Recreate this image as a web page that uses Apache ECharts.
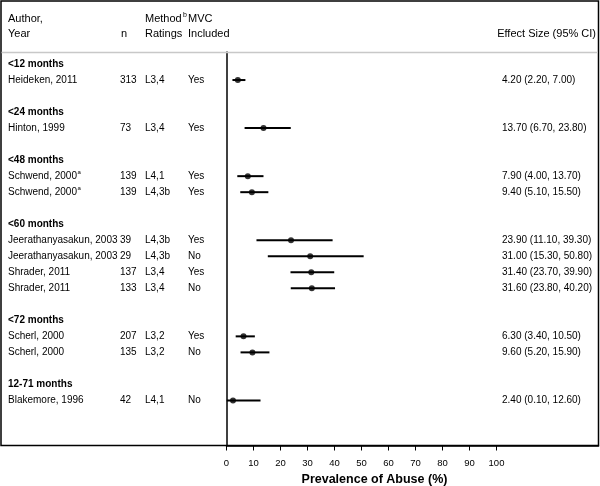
<!DOCTYPE html>
<html><head><meta charset="utf-8">
<script src="https://cdn.jsdelivr.net/npm/echarts@6/dist/echarts.min.js"></script>
<style>html,body{margin:0;padding:0;background:#fff}#c{width:600px;height:486px}</style>
</head><body><div id="c"></div>
<script>
var groups = ['<12 months','<24 months','<48 months','<60 months','<72 months','12-71 months'];
var authors = ['Heideken, 2011','Hinton, 1999','Schwend, 2000','Schwend, 2000','Jeerathanyasakun, 2003','Jeerathanyasakun, 2003','Shrader, 2011','Shrader, 2011','Scherl, 2000','Scherl, 2000','Blakemore, 1996'];
var authorSup = ['','','a','a','','','','','','',''];
var groupOf = [0,1,2,2,3,3,3,3,4,4,5];
var nVals = [313,73,139,139,39,29,137,133,207,135,42];
var methods = ['L3,4','L3,4','L4,1','L4,3b','L4,3b','L4,3b','L3,4','L3,4','L3,2','L3,2','L4,1'];
var mvc = ['Yes','Yes','Yes','Yes','Yes','No','Yes','No','Yes','No','No'];
var es = [4.20,13.70,7.90,9.40,23.90,31.00,31.40,31.60,6.30,9.60,2.40];
var lo = [2.20,6.70,4.00,5.10,11.10,15.30,23.70,23.80,3.40,5.20,0.10];
var hi = [7.00,23.80,13.70,15.50,39.30,50.80,39.90,40.20,10.50,15.90,12.60];
var xTicks = [0,10,20,30,40,50,60,70,80,90,100];

// build row layout: group header, its studies, blank row
var rowOfStudy = [], rowOfGroup = [];
var r = 0;
groups.forEach(function(g, gi){
  rowOfGroup.push(r); r++;
  groupOf.forEach(function(go, si){ if(go===gi){ rowOfStudy[si]=r; r++; } });
  r++;
});

var FONT = "'Liberation Sans', Arial, Helvetica, sans-serif";
var chart = echarts.init(document.getElementById('c'), null, {renderer:'canvas'});

var ciData = es.map(function(v,i){ return [lo[i], hi[i], rowOfStudy[i]]; });
var ptData = es.map(function(v,i){ return [v, rowOfStudy[i]]; });

chart.setOption({
  animation:false,
  grid:{left:226.5, right:1.5, top:52, bottom:40.5, containLabel:false},
  xAxis:{type:'value', position:'bottom', min:0, max:137.78, interval:10,
    axisLine:{show:true, onZero:false, lineStyle:{color:'#000', width:1.5}},
    axisTick:{show:true, customValues:xTicks, length:5, lineStyle:{color:'#000', width:1}},
    axisLabel:{show:true, customValues:xTicks, fontFamily:FONT, fontSize:9.5, color:'#000', margin:13},
    splitLine:{show:false}},
  yAxis:{type:'value', inverse:true, min:-0.75, max:23.8125,
    axisLine:{show:true, onZero:false, lineStyle:{color:'#000', width:1.5}},
    axisTick:{show:false}, axisLabel:{show:false}, splitLine:{show:false}},
  series:[
    {type:'custom', data:ciData, encode:{x:[0,1], y:2},
     renderItem:function(params, api){
       var a = api.coord([api.value(0), api.value(2)]);
       var b = api.coord([api.value(1), api.value(2)]);
       return {type:'line', shape:{x1:a[0], y1:a[1], x2:b[0], y2:b[1]},
               style:{stroke:'#000', lineWidth:2}};
     }, z:3},
    {type:'scatter', data:ptData, symbol:'circle', symbolSize:6,
     itemStyle:{color:'#000'}, z:4}
  ]
});

function py(row){ return chart.convertToPixel({yAxisIndex:0}, row); }

var g = [];
g.push({type:'rect', shape:{x:1, y:1, width:597.5, height:444.5}, style:{fill:'none', stroke:'#000', lineWidth:1.5}, z:1});
g.push({type:'line', shape:{x1:1.5, y1:52.5, x2:598, y2:52.5}, style:{stroke:'#c8c8c8', lineWidth:1.5}, z:1});

function txt(x, y, s, opt){
  opt = opt || {};
  return {type:'text', x:x, y:y, z:10, style:{text:s, fill:'#000', font:(opt.bold?'bold ':'') + (opt.size||10) + 'px ' + FONT,
    textAlign:opt.align||'left', textVerticalAlign:'middle'}};
}
// headers
var H = 11;
g.push(txt(8, 18.5, 'Author,', {size:H}));
g.push(txt(8, 33.5, 'Year', {size:H}));
g.push(txt(121, 33.5, 'n', {size:H}));
g.push(txt(145, 18.5, 'Method', {size:H}));
g.push(txt(183, 15, 'b', {size:7}));
g.push(txt(188, 18.5, 'MVC', {size:H}));
g.push(txt(145, 33.5, 'Ratings', {size:H}));
g.push(txt(188, 33.5, 'Included', {size:H}));
g.push(txt(596, 33.5, 'Effect Size (95% CI)', {size:H, align:'right'}));

groups.forEach(function(name, gi){ g.push(txt(8, py(rowOfGroup[gi]), name, {bold:true})); });
authors.forEach(function(a, i){
  var y = py(rowOfStudy[i]);
  g.push(txt(8, y, a));
  if(authorSup[i]) g.push(txt(77.5, y-3.5, authorSup[i], {size:6}));
  g.push(txt(120, y, String(nVals[i])));
  g.push(txt(145, y, methods[i]));
  g.push(txt(188, y, mvc[i]));
  g.push(txt(502, y, es[i].toFixed(2) + ' (' + lo[i].toFixed(2) + ', ' + hi[i].toFixed(2) + ')'));
});
g.push(txt(374.5, 479.5, 'Prevalence of Abuse (%)', {bold:true, size:12.5, align:'center'}));

chart.setOption({graphic:{elements:g}});
</script>
</body></html>
